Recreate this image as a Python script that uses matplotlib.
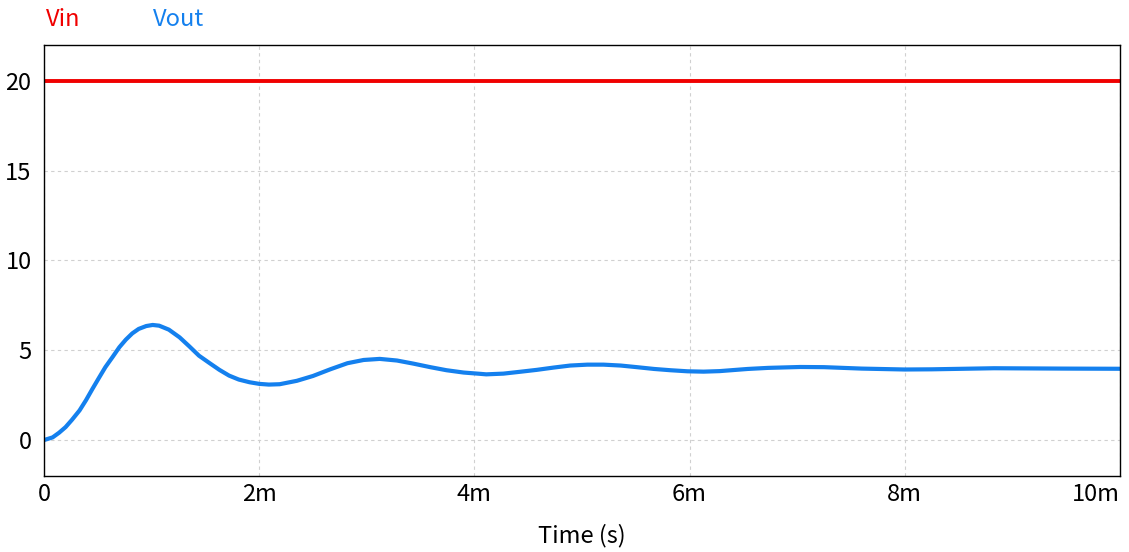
import matplotlib
matplotlib.use("Agg")
import matplotlib.pyplot as plt

plt.rcParams['font.family'] = ['Noto Sans CJK JP', 'DejaVu Sans']

# time in milliseconds
t_vin = [0.0, 10.0]
vin = [20.0, 20.0]

t_vout = [0.00, 0.08, 0.14, 0.20, 0.26, 0.33, 0.39, 0.45, 0.51, 0.57,
          0.64, 0.70, 0.76, 0.82, 0.88, 0.95, 1.01, 1.07, 1.16, 1.26,
          1.35, 1.44, 1.54, 1.63, 1.72, 1.81, 1.91, 2.00, 2.09, 2.19,
          2.35, 2.50, 2.66, 2.82, 2.97, 3.12, 3.28, 3.43, 3.59, 3.74,
          3.90, 4.05, 4.11, 4.27, 4.42, 4.58, 4.74, 4.89, 5.05, 5.20,
          5.36, 5.51, 5.67, 5.82, 5.98, 6.13, 6.28, 6.54, 6.73, 7.03,
          7.25, 7.60, 8.00, 8.25, 8.83, 9.48, 10.00]
vout = [0.00, 0.15, 0.41, 0.72, 1.13, 1.65, 2.22, 2.85, 3.46, 4.06,
        4.65, 5.17, 5.59, 5.94, 6.19, 6.35, 6.41, 6.37, 6.15, 5.72,
        5.22, 4.70, 4.28, 3.91, 3.59, 3.37, 3.22, 3.13, 3.09, 3.11,
        3.30, 3.57, 3.94, 4.28, 4.46, 4.52, 4.43, 4.26, 4.06, 3.89,
        3.76, 3.69, 3.66, 3.70, 3.80, 3.91, 4.04, 4.15, 4.20, 4.20,
        4.15, 4.06, 3.96, 3.89, 3.83, 3.81, 3.84, 3.96, 4.02, 4.07,
        4.06, 3.98, 3.93, 3.94, 4.00, 3.98, 3.97]

xticks = [0, 2, 4, 6, 8, 10]
xtick_labels = ['0', '2m', '4m', '6m', '8m', '10m']
yticks = [0, 5, 10, 15, 20]
ytick_labels = ['0', '5', '10', '15', '20']

red = '#f00000'
blue = '#1480ee'
fs = 17

fig = plt.figure(figsize=(11.29, 5.52), dpi=100)
ax = fig.add_axes([0.039, 0.1377, 0.953, 0.7808])

ax.plot(t_vin, vin, color=red, lw=2.8, solid_capstyle='butt')
ax.plot(t_vout, vout, color=blue, lw=3.0, solid_capstyle='round',
        solid_joinstyle='round')

ax.set_xlim(0, 10)
ax.set_ylim(-2, 22)
ax.set_xticks(xticks)
ax.set_xticklabels(xtick_labels)
ax.set_yticks(yticks)
ax.set_yticklabels(ytick_labels)
ax.tick_params(axis='both', length=0, labelsize=fs)
ax.tick_params(axis='x', pad=5)
ax.tick_params(axis='y', pad=9)
ax.get_xticklabels()[-1].set_horizontalalignment('right')
ax.grid(True, color='#d0d0d0', linestyle=(0, (3, 3)), lw=0.8)
for s in ax.spines.values():
    s.set_color('black')
    s.set_linewidth(1.0)

ax.set_xlabel('Time (s)', fontsize=fs, labelpad=13)

fig.text(46/1129, 1 - 19/552, 'Vin', color=red, fontsize=fs, va='center', ha='left')
fig.text(153/1129, 1 - 19/552, 'Vout', color=blue, fontsize=fs, va='center', ha='left')

fig.savefig('out.png', dpi=100)
